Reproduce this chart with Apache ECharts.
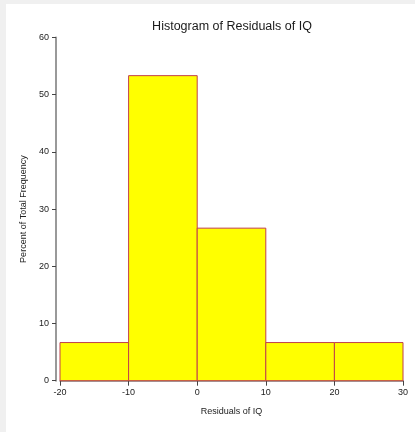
<!DOCTYPE html>
<html>
<head>
<meta charset="utf-8">
<script src="https://cdn.jsdelivr.net/npm/echarts@6/dist/echarts.min.js"></script>
<style>
html,body{margin:0;padding:0;background:#f0f0f0;width:415px;height:432px;overflow:hidden;}
#c{position:absolute;left:6px;top:4px;width:409px;height:428px;background:#ffffff;}
</style>
</head>
<body>
<div id="c"></div>
<script>
const binStarts = [-20, -10, 0, 10, 20];
const binEnds = [-10, 0, 10, 20, 30];
const percents = [6.67, 53.33, 26.67, 6.67, 6.67];
const xTicks = [-20, -10, 0, 10, 20, 30];
const yTicks = [0, 10, 20, 30, 40, 50, 60];

const rows = binStarts.map((s, i) => [s, binEnds[i], percents[i]]);
const FONT = "'Liberation Sans', Arial, sans-serif";

const chart = echarts.init(document.getElementById('c'), null, {renderer: 'canvas'});
chart.setOption({
  animation: false,
  backgroundColor: '#ffffff',
  title: {
    text: 'Histogram of Residuals of IQ',
    left: 221,
    top: 11,
    textAlign: 'center',
    textStyle: {fontFamily: FONT, fontSize: 12.5, fontWeight: 'normal', color: '#1a1a1a'}
  },
  grid: {left: 54, right: 12, top: 33.5, bottom: 51.3, containLabel: false},
  xAxis: {
    type: 'value',
    min: xTicks[0],
    max: xTicks[xTicks.length - 1],
    interval: 10,
    name: 'Residuals of IQ',
    nameLocation: 'middle',
    nameGap: 26,
    nameTextStyle: {fontFamily: FONT, fontSize: 9, color: '#222'},
    axisLine: {show: true, onZero: false, lineStyle: {color: '#808080', width: 1.5}},
    axisTick: {show: true, length: 5, lineStyle: {color: '#444'}},
    axisLabel: {margin: 7, fontFamily: FONT, fontSize: 9, color: '#222'},
    splitLine: {show: false}
  },
  yAxis: {
    type: 'value',
    min: yTicks[0],
    max: yTicks[yTicks.length - 1],
    interval: 10,
    offset: 4,
    name: 'Percent of Total Frequency',
    nameLocation: 'middle',
    nameGap: 26,
    nameTextStyle: {fontFamily: FONT, fontSize: 9, color: '#222'},
    axisLine: {show: true, onZero: false, lineStyle: {color: '#999999', width: 2}},
    axisTick: {show: true, length: 4, lineStyle: {color: '#444'}},
    axisLabel: {margin: 7, fontFamily: FONT, fontSize: 9, color: '#222'},
    splitLine: {show: false}
  },
  series: [{
    type: 'custom',
    data: rows,
    encode: {x: [0, 1], y: 2},
    renderItem: function (params, api) {
      const p0 = api.coord([api.value(0), api.value(2)]);
      const p1 = api.coord([api.value(1), 0]);
      return {
        type: 'rect',
        shape: {x: p0[0], y: p0[1], width: p1[0] - p0[0], height: p1[1] - p0[1]},
        style: {fill: '#ffff00', stroke: '#c0404a', lineWidth: 1}
      };
    }
  }]
});
</script>
</body>
</html>
